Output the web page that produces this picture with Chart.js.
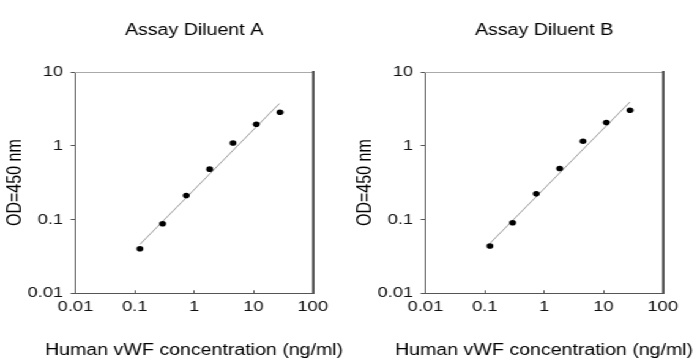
<!DOCTYPE html>
<html><head><meta charset="utf-8">
<script src="https://cdn.jsdelivr.net/npm/chart.js@4/dist/chart.umd.min.js"></script>
<style>
html,body{margin:0;padding:0;background:#fff;overflow:hidden;width:700px;height:363px}
#wrap{width:572px;height:363px;transform:scale(1.2238,1);transform-origin:0 0;display:flex}
canvas{display:block}
</style></head>
<body>
<div id="wrap"><canvas id="chartA" width="286" height="363"></canvas><canvas id="chartB" width="286" height="363"></canvas></div>
<script>
// ---- data ----
const concentrations = [0.122, 0.295, 0.738, 1.83, 4.53, 11.2, 28.1];
const odDiluentA = [0.0402, 0.0875, 0.212, 0.482, 1.09, 1.96, 2.85];
const odDiluentB = [0.0437, 0.0903, 0.223, 0.492, 1.15, 2.07, 3.03];
const fitXA = [0.122, 27.4];
const fitYA = [0.046, 3.73];
const fitXB = [0.122, 28.1];
const fitYB = [0.0475, 3.93];
const xTickValues = [0.01, 0.1, 1, 10, 100];
const yTickValues = [0.01, 0.1, 1, 10];
const panelTitles = ['Assay Diluent A', 'Assay Diluent B'];
const xAxisTitle = 'Human vWF concentration (ng/ml)';
const yAxisTitle = 'OD=450 nm';

Chart.defaults.font.family = "'Liberation Sans', Arial, sans-serif";
Chart.defaults.color = '#000';

function makeChart(id, title, od, fx, fy) {
  const pts = concentrations.map((x, i) => ({x: x, y: od[i]}));
  const fit = fx.map((x, i) => ({x: x, y: fy[i]}));
  return new Chart(document.getElementById(id), {
    type: 'scatter',
    data: {
      datasets: [
        {data: pts, backgroundColor: '#000', borderWidth: 0, pointRadius: 2.8, order: 1},
        {data: fit, showLine: true, borderColor: '#9a9a9a', borderWidth: 1, pointRadius: 0, order: 2}
      ]
    },
    options: {
      responsive: false,
      animation: false,
      events: [],
      layout: {padding: {top: 0, right: -21.2, bottom: 0, left: 10}},
      plugins: {
        legend: {display: false}, tooltip: {enabled: false},
        title: {display: true, position: 'bottom', text: xAxisTitle, font: {size: 16, weight: 'normal'},
                color: '#000', padding: {top: 10, bottom: 2.4}}
      },
      scales: {
        x: {
          type: 'logarithmic', position: 'bottom', min: 0.01, max: 100,
          afterBuildTicks: s => { s.ticks = xTickValues.map(v => ({value: v})); },
          afterFit: s => { s.height = 38.1; },
          ticks: {font: {size: 15}, color: '#111', padding: 8, maxRotation: 0, autoSkip: false,
                  callback: v => String(v)},
          grid: {display: true, drawOnChartArea: false, drawTicks: true, tickLength: -3, color: '#555'},
          border: {display: true, color: '#555', width: 1}
        },
        y: {
          type: 'logarithmic', position: 'left', min: 0.01, max: 10,
          afterBuildTicks: s => { s.ticks = yTickValues.map(v => ({value: v})); },
          afterFit: s => { s.width = 51.7; },
          ticks: {font: {size: 15}, color: '#111', padding: 6, autoSkip: false,
                  callback: v => String(v)},
          grid: {display: true, drawOnChartArea: false, drawTicks: true, tickLength: 4, color: '#555'},
          border: {display: true, color: '#555', width: 1},
          title: {display: true, text: yAxisTitle, font: {size: 16}, color: '#000', padding: {top: -6.8, bottom: 0}}
        },
        x2: {
          type: 'logarithmic', position: 'top', min: 0.01, max: 100,
          afterFit: s => { s.height = 72; },
          ticks: {display: false},
          grid: {display: false},
          border: {display: true, color: '#aaa', width: 1},
          title: {display: true, text: title, font: {size: 16}, color: '#000', padding: {top: 21, bottom: 0}}
        },
        y2: {
          type: 'logarithmic', position: 'right', min: 0.01, max: 10,
          afterFit: s => { s.width = 51.7; },
          ticks: {display: false},
          grid: {display: false},
          border: {display: true, color: '#555', width: 2}
        }
      }
    }
  });
}

makeChart('chartA', panelTitles[0], odDiluentA, fitXA, fitYA);
makeChart('chartB', panelTitles[1], odDiluentB, fitXB, fitYB);
</script>
</body></html>
